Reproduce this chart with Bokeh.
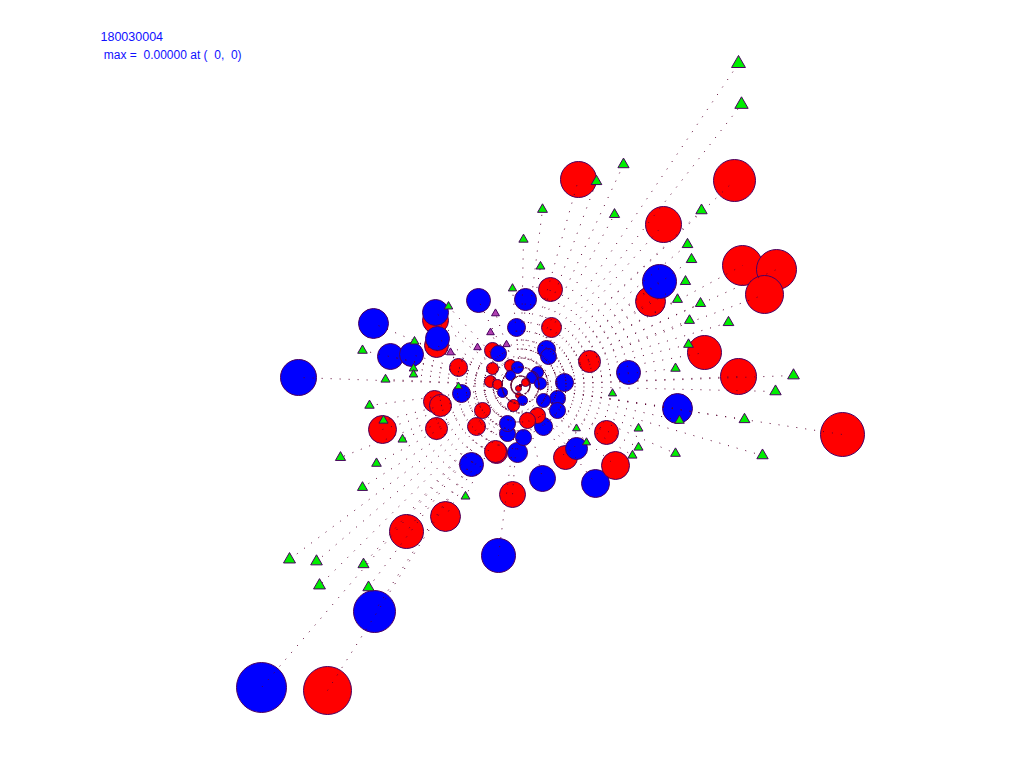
from bokeh.plotting import figure
from bokeh.models import Range1d, ColumnDataSource, Label
from bokeh.embed import file_html
from bokeh.resources import INLINE
import math

NB = "\u00a0"
title_text = "180030004"
subtitle_text = NB + "max =" + NB * 2 + "0.00000 at (" + NB * 2 + "0," + NB * 2 + "0)"

# circles: offsets from centre (x right, y up), radius, kind ("A" red, "B" blue)
circ_x = [-259, -193, -146, -114, -75, -22, -8, 22, 75, 95, 45, -49, -24, 56, 86, 322,
          157, 218, 184, 108, 69, -222, -138, -84, -86, -80, -59, -62, -44, -38,
          -147, -130, -109, -85, -85, -84, -83, -42, 5, 30, -4, 31, 26, 28,
          58, 143, 214, 222, 256, 244, 130, 139,
          44, 37, 37, 23, 23, 17, 7, -3, -13, 3,
          -28, -22, -28, -10, -3, -10, -30, -23, -18, 17, 12, 20, 5, -2, -2, 2, -7, -13, -25]
circ_y = [-302, -305, -226, -146, -131, -170, -109, -93, -98, -80, -72, -79, -67, -63, -47, -49,
          -23, 9, 33, 13, 24, 8, -44, -43, -16, -20, -8, 18, -41, -25,
          62, 29, 31, 65, 73, 40, 47, 85, 86, 96, 58, 58, 36, 29,
          206, 161, 205, 120, 116, 91, 84, 104,
          3, -13, -25, -15, -41, -30, -35, -67, -48, -52,
          35, 32, 17, 20, 18, 10, 4, 1, -7, 13, 8, 2, 3, -3, -10, -15, -20, -38, -66]
circ_r = [25, 24, 21, 17, 15, 17, 13, 13, 14, 14, 12, 12, 11, 11, 12, 22,
          15, 18, 17, 12, 11, 18, 14, 11, 11, 11, 9, 9, 9, 8,
          15, 13, 12, 13, 13, 12, 12, 12, 11, 12, 9, 10, 9, 8,
          18, 18, 21, 20, 20, 19, 15, 17,
          9, 8, 8, 7, 9, 8, 8, 10, 8, 8,
          8, 8, 6, 6, 6, 5, 6, 5, 5, 6, 6, 6, 4, 3, 3, 5, 6, 8, 11]
circ_kind = ["B", "A", "B", "A", "A", "B", "A", "B", "B", "A", "A", "B", "A", "B", "A", "A",
             "B", "A", "A", "B", "A", "B", "A", "A", "A", "A", "B", "A", "A", "A",
             "B", "B", "B", "A", "B", "A", "B", "B", "B", "A", "B", "A", "B", "B",
             "A", "A", "A", "A", "A", "A", "A", "B",
             "B", "B", "B", "B", "B", "A", "A", "B", "B", "B",
             "A", "B", "A", "A", "B", "B", "A", "A", "B", "B", "B", "B", "A", "A", "A", "B", "A", "B", "A"]

# triangles: offsets from centre, kind ("G" green, "P" purple)
tri_x = [218, 221, 103, 76, 22, 94, 181, 3, 20, 167, 171, 165, -8, 157, 180, 169, 208, 168, 155,
         273, 255, 92, 159, 224, 118, 118, 112, 155, 242, 56, 66, -72, -106, -107, -107, -135,
         -151, -62, -137, -118, -180, -144, -158, -55, -231, -204, -157, -201, -152, -158,
         -25, -30, -43, -14, -70]
tri_y = [322, 281, 221, 204, 176, 171, 175, 146, 119, 141, 126, 104, 97, 86, 82, 65, 63, 41, 17,
         10, -6, -8, -35, -34, -43, -62, -70, -68, -70, -43, -57, 79, 44, 17, 11, 6,
         -20, -1, -35, -54, -72, -78, -102, -111, -174, -176, -179, -200, -202, 35,
         72, 53, 38, 41, 33]
tri_kind = ["G"] * 50 + ["P"] * 5

ring_r = [22, 33, 45]

W, H = 1008, 752
cx0, cy0 = 520, 385  # centre position inside frame (px from left / top)

p = figure(width=W, height=H, output_backend="svg", toolbar_location=None,
           x_range=Range1d(-cx0, W - cx0), y_range=Range1d(-(H - cy0), cy0),
           min_border=0, outline_line_color=None)
p.axis.visible = False
p.grid.visible = False
p.background_fill_color = "white"

dot_col = "#5a0030"
edge_col = "#4a0060"

# rings
for r in ring_r:
    p.circle(x=[-2], y=[-4], radius=r, fill_color=None, line_color=dot_col,
             line_dash="1 5", line_width=1)

csrc = ColumnDataSource(dict(x=circ_x, y=circ_y, r=circ_r,
                             fc=["#ff0000" if k == "A" else "#0000ff" for k in circ_kind]))
p.circle(x="x", y="y", radius="r", fill_color="fc", line_color=edge_col, line_width=1,
         source=csrc)

# radial dotted lines
sx = circ_x + tri_x
sy = circ_y + tri_y
p.segment(x0=[0] * len(sx), y0=[0] * len(sy), x1=sx, y1=sy, line_color=dot_col,
          line_dash="1 8", line_width=1)

tsrc = ColumnDataSource(dict(x=tri_x, y=tri_y,
                             s=[6.5 + 0.019 * math.hypot(a, b) for a, b in zip(tri_x, tri_y)],
                             fc=["#00ee00" if k == "G" else "#b040b0" for k in tri_kind]))
p.scatter(x="x", y="y", size="s", marker="triangle", fill_color="fc", line_color=edge_col,
          line_width=1, source=tsrc)

p.add_layout(Label(x=-cx0 + 100, y=cy0 - 36, text=title_text, text_font="Liberation Sans",
                   text_font_size="12.5px", text_color="#1010ff", text_baseline="middle"))
p.add_layout(Label(x=-cx0 + 100, y=cy0 - 54, text=subtitle_text, text_font="Liberation Sans",
                   text_font_size="12px", text_color="#1010ff", text_baseline="middle"))

open("out.html", "w").write(file_html(p, INLINE))
